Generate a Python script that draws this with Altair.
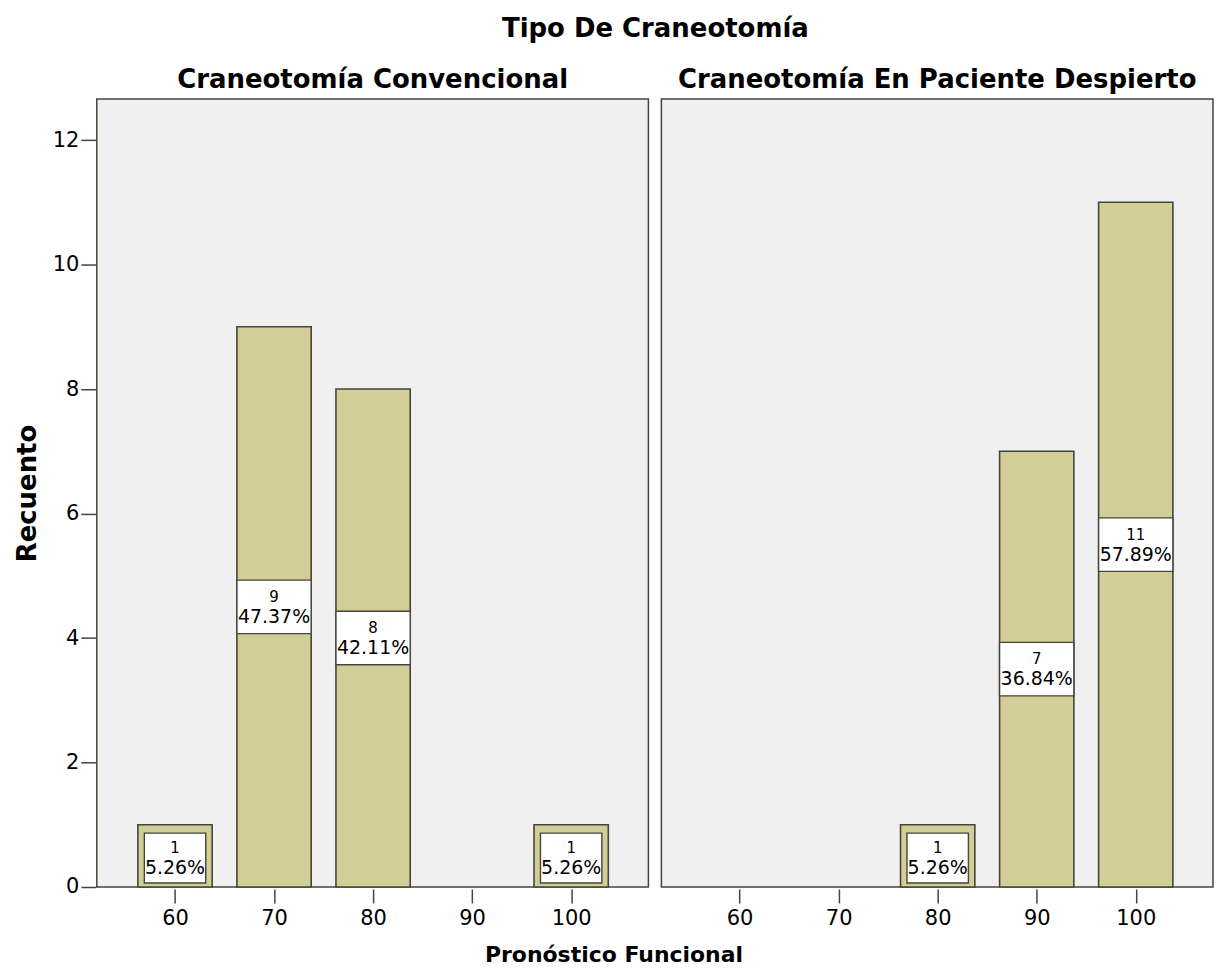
import altair as alt
import pandas as pd

tipos = ["Craneotomía Convencional"] * 4 + ["Craneotomía En Paciente Despierto"] * 3
pronostico = [60, 70, 80, 100, 80, 90, 100]
recuento = [1, 9, 8, 1, 1, 7, 11]
porcentaje = ["5.26%", "47.37%", "42.11%", "5.26%", "5.26%", "36.84%", "57.89%"]

orden_tipos = ["Craneotomía Convencional", "Craneotomía En Paciente Despierto"]
ticks_x = [60, 70, 80, 90, 100]
ticks_y = [0, 2, 4, 6, 8, 10, 12]

df = pd.DataFrame({
    "tipo": tipos,
    "pron": pronostico,
    "n": recuento,
    "pct": porcentaje,
})

FONT = "DejaVu Sans"
BAR_FILL = "#d3ce97"
EDGE = "#45453a"

xscale = alt.Scale(domain=[52.1, 107.8], nice=False, zero=False)
yscale = alt.Scale(domain=[0, 12.66], nice=False)

base = alt.Chart().transform_calculate(
    x_lo="datum.pron - 3.75",
    x_hi="datum.pron + 3.75",
    y0="0",
    bx_lo="datum.n < 2 ? datum.pron - 3.1 : datum.pron - 3.75",
    bx_hi="datum.n < 2 ? datum.pron + 3.1 : datum.pron + 3.75",
    by_c="datum.n < 2 ? 0.465 : datum.n / 2",
)

xaxis = alt.Axis(values=ticks_x, title=None, grid=False, domain=False, format="d",
                 tickSize=14, tickWidth=1.5, tickColor=EDGE, labelFontSize=21,
                 labelColor="black", labelPadding=5, labelFont=FONT)
yaxis = alt.Axis(values=ticks_y, title="Recuento", grid=False, domain=False, format="d",
                 tickSize=15, tickWidth=1.5, tickColor=EDGE, labelFontSize=21,
                 labelColor="black", labelPadding=2, titleFontSize=26, titleColor="black",
                 titleFontWeight="bold", titlePadding=12, labelFont=FONT, titleFont=FONT)

bars = base.mark_rect(fill=BAR_FILL, stroke=EDGE, strokeWidth=1.6).encode(
    x=alt.X("x_lo:Q", scale=xscale, axis=xaxis),
    x2="x_hi:Q",
    y=alt.Y("n:Q", scale=yscale, axis=yaxis),
    y2="y0:Q",
)

boxes = base.transform_calculate(
    by_lo="datum.by_c - (datum.n < 2 ? 0.4 : 0.43)",
    by_hi="datum.by_c + (datum.n < 2 ? 0.4 : 0.43)",
).mark_rect(fill="white", stroke=EDGE, strokeWidth=1.4).encode(
    x=alt.X("bx_lo:Q", scale=xscale),
    x2="bx_hi:Q",
    y=alt.Y("by_lo:Q", scale=yscale),
    y2="by_hi:Q",
)

txt_n = base.mark_text(font=FONT, fontSize=15, color="black", baseline="middle", dy=-10).encode(
    x=alt.X("pron:Q", scale=xscale),
    y=alt.Y("by_c:Q", scale=yscale),
    text="n:Q",
)

txt_p = base.mark_text(font=FONT, fontSize=19, color="black", baseline="middle", dy=10).encode(
    x=alt.X("pron:Q", scale=xscale),
    y=alt.Y("by_c:Q", scale=yscale),
    text="pct:N",
)

layer = alt.layer(bars, boxes, txt_n, txt_p, data=df).properties(width=553, height=790)

chart = layer.facet(
    column=alt.Column(
        "tipo:N",
        sort=orden_tipos,
        title="Tipo De Craneotomía",
        header=alt.Header(
            titleFont=FONT, titleFontSize=26, titleFontWeight="bold", titleColor="black",
            titlePadding=15,
            labelFont=FONT, labelFontSize=26, labelFontWeight="bold", labelColor="black",
            labelPadding=5,
        ),
    ),
    spacing=11,
).properties(
    title=alt.TitleParams(
        text="Pronóstico Funcional", orient="bottom", anchor="middle",
        font=FONT, fontSize=22, fontWeight="bold", color="black", offset=16,
    ),
    padding={"left": 6, "top": 7, "right": 0, "bottom": 0},
    background="white",
).configure_view(
    fill="#f0f0f0", stroke=EDGE, strokeWidth=1.5
)

chart.save("out.html", embed_options={"renderer": "svg", "actions": False})
